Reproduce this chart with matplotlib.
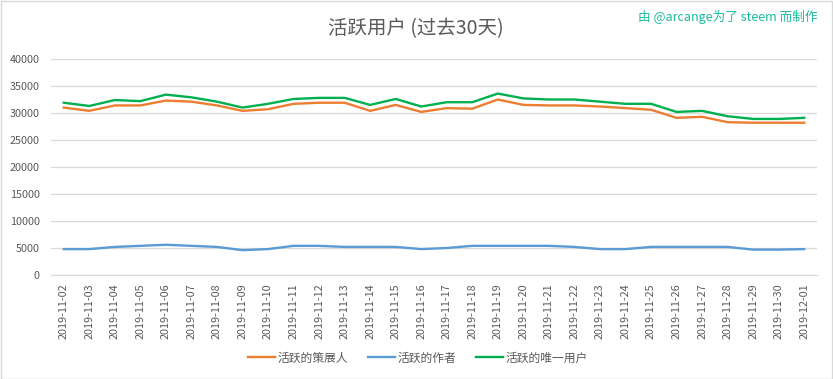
import matplotlib
matplotlib.use("Agg")
import matplotlib.pyplot as plt
from matplotlib.patches import Rectangle

plt.rcParams['font.family'] = ['Noto Sans CJK SC', 'DejaVu Sans']

# Data
dates = ["2019-11-%02d" % d for d in range(2, 31)] + ["2019-12-01"]

curators = [31000, 30400, 31400, 31400, 32300, 32100, 31400, 30400, 30700, 31700,
            31900, 31900, 30400, 31500, 30200, 30900, 30800, 32500, 31500, 31400,
            31400, 31200, 30900, 30600, 29100, 29300, 28300, 28200, 28200, 28200]

authors = [4800, 4800, 5200, 5400, 5600, 5400, 5200, 4600, 4800, 5400,
           5400, 5200, 5200, 5200, 4800, 5000, 5400, 5400, 5400, 5400,
           5200, 4800, 4800, 5200, 5200, 5200, 5200, 4700, 4700, 4800]

unique_users = [31900, 31300, 32400, 32200, 33400, 32900, 32100, 31000, 31700, 32600,
                32800, 32800, 31500, 32600, 31200, 32000, 32000, 33600, 32700, 32500,
                32500, 32100, 31700, 31700, 30200, 30400, 29400, 28900, 28900, 29100]

series_names = ["活跃的策展人", "活跃的作者", "活跃的唯一用户"]
colors = ["#ED7D31", "#5B9BD5", "#00B050"]

W, H = 833, 379
fig = plt.figure(figsize=(W / 100, H / 100), dpi=100)
fig.patch.set_facecolor("white")

# outer chart frame
fig.patches.append(Rectangle((0.5 / W, 0.5 / H), 831 / W, 377.5 / H, transform=fig.transFigure,
                             fill=False, edgecolor="#D9D9D9", linewidth=1.0))

ax = fig.add_axes([51 / W, 1 - 275 / H, (817 - 51) / W, (275 - 59) / H])

x = list(range(len(dates)))
for vals, name, c in zip([curators, authors, unique_users], series_names, colors):
    ax.plot(x, vals, color=c, linewidth=1.7, label=name, solid_joinstyle="round")

ax.set_xlim(-0.5, len(dates) - 0.5)
ax.set_ylim(0, 40000)
ax.set_yticks(range(0, 40001, 5000))
ax.set_xticks(x)
ax.set_xticklabels(dates, rotation=90, fontsize=7.8, color="#595959")
ax.tick_params(axis="y", labelsize=7.8, labelcolor="#595959", length=0, pad=8)
ax.tick_params(axis="x", length=0, pad=6)
ax.grid(axis="y", color="#D9D9D9", linewidth=0.9)
ax.set_axisbelow(True)
for s in ["top", "right", "left"]:
    ax.spines[s].set_visible(False)
ax.spines["bottom"].set_color("#D9D9D9")
ax.spines["bottom"].set_linewidth(0.9)

fig.text(416 / W, 1 - 29 / H, "活跃用户 (过去30天)", ha="center", va="center",
         fontsize=14, color="#595959")
fig.text(818 / W, 1 - 17 / H, "由 @arcange为了 steem 而制作", ha="right", va="center",
         fontsize=9.1, color="#1ABC9C")

fig.legend(loc="center", bbox_to_anchor=(418 / W, 1 - 358 / H), ncol=3, frameon=False,
           fontsize=8.5, handlelength=2.3, handletextpad=0.2, columnspacing=1.7,
           labelcolor="#595959")

fig.savefig("out.png", dpi=100)
